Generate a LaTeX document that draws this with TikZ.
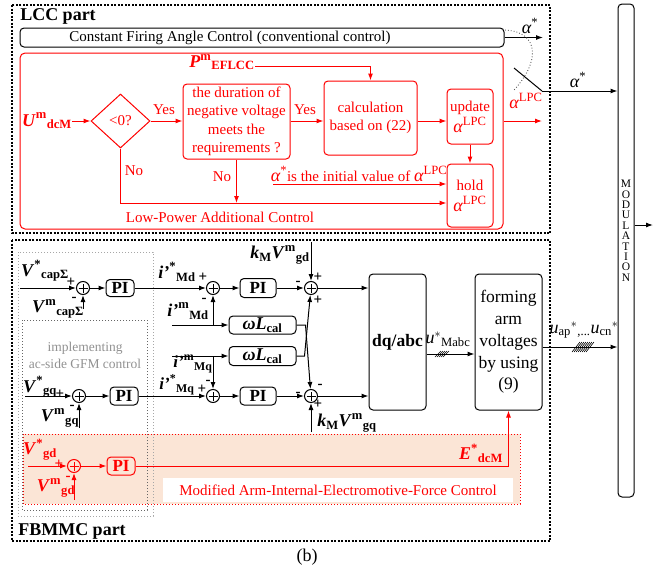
\documentclass[tikz,border=0pt]{standalone}
\usepackage{amsmath}
\usepackage{fontspec}
\setmainfont{Liberation Serif}
\usepackage{tikz}
\usetikzlibrary{arrows.meta}
\usetikzlibrary{shapes.geometric}
\usetikzlibrary{calc}
\definecolor{shade}{RGB}{251,229,214}
\definecolor{ltgray}{RGB}{145,145,145}
\tikzset{t/.style={font=\fontsize{15}{18.5}\selectfont}}
\tikzset{g/.style={font=\fontsize{13.5}{17}\selectfont, text=ltgray, align=center}}
\tikzset{hd/.style={font=\fontsize{18}{18}\selectfont\bfseries}}
\tikzset{lb/.style={font=\fontsize{18}{18}\selectfont, inner sep=0pt}}
\tikzset{sg/.style={font=\fontsize{15}{15}\selectfont\bfseries, inner sep=0pt}}
\tikzset{blk/.style={draw, rounded corners=4pt, inner sep=0pt, align=center}}
\tikzset{rblk/.style={blk, draw=red, text=red}}
\tikzset{pib/.style={blk, font=\fontsize{17}{17}\selectfont\bfseries, minimum width=28, minimum height=17}}
\tikzset{sum/.style={draw=#1, circle, minimum size=13, inner sep=0pt,
  path picture={\draw[#1, line width=0.8pt]
    ([xshift=-4.5pt]path picture bounding box.center) -- ([xshift=4.5pt]path picture bounding box.center)
    ([yshift=-4.5pt]path picture bounding box.center) -- ([yshift=4.5pt]path picture bounding box.center);}},
  sum/.default=black}
\tikzset{frame/.style={line width=1.3pt, dash pattern=on 2pt off 1.5pt}}
\tikzset{rw/.style={draw=red}}
% bold signal names: letter, superscript, subscript
\newcommand{\vlab}[3]{$\textbf{\textit{#1}}^{\textbf{#2}}{}_{\textbf{#3}}$}
\newcommand{\kvlab}[1]{$\textbf{\textit{k}}_{\textbf{M}}\textbf{\textit{V}}^{\textbf{m}}{}_{\textbf{#1}}$}
\newcommand{\alab}[1]{{\fontsize{18}{18}\selectfont$\textit{α}^{\text{#1}}$}}
\newcommand{\wlab}{$\textbf{\textit{ωL}}_{\textbf{cal}}$}

\begin{document}
\begin{tikzpicture}[x=1pt,y=-1pt,line width=1pt,>={Latex[length=7pt,width=5pt]}]
\useasboundingbox (0,0) rectangle (670,576);

% modulation stage
\node[blk, minimum width=16, minimum height=493] (mod) at (626,250.5) {};
\foreach \ch [count=\k] in {M,O,D,U,L,A,T,I,O,N}
  \node[font=\fontsize{11.5}{11.5}\selectfont, inner sep=0pt] at (626,173.6+10.4*\k) {\ch};
\coordinate (mout) at (653,225);
\draw[->] (mout -| mod.east) -- (mout);

% ---------------- LCC part ----------------
\draw[frame] (12,5) rectangle (550,233);
\node[hd] at (58,16) {LCC part};
\node[blk, minimum width=484, minimum height=19] (cfac) at (262,37.5) {};
\node[t] at (230,37.5) {Constant Firing Angle Control (conventional control)};
\coordinate (acon) at (543,37.5);
\draw[->] (cfac.east) -- (acon);
\node[lb] at (530,26) {\alab{*}};
\draw[black!65, dotted, line width=0.9pt] (505,30) .. controls (540,32) and (540,62) .. (514,90);
\coordinate (swa) at (514,68);
\coordinate (swb) at (542,91);
\draw (swa) -- (swb);
\draw[->] (swb) -- (swb -| mod.west);
\node[lb] at (578,80) {\alab{*}};

% low-power additional control
\node[rblk, rounded corners=5pt, minimum width=483, minimum height=176] (lpc) at (261.5,141) {};
\node[t, text=red] at (220,217) {Low-Power Additional Control};
\node[lb, text=red] (udc) at (47,121) {\vlab{U}{m}{dcM}};
\node[diamond, draw=red, t, text=red, inner sep=0pt, minimum width=59, minimum height=54] (cmp) at (120.5,121) {<0?};
\node[rblk, t, minimum width=107, minimum height=75] (dur) at (236.5,121.5) {the duration of\\negative voltage\\meets the\\requirements ?};
\node[rblk, t, minimum width=93, minimum height=74] (calc) at (370.5,118) {calculation\\based on (22)};
\node[rblk, t, font=\fontsize{15}{21}\selectfont, minimum width=46, minimum height=55] (upd) at (470,116.5) {update\\\alab{LPC}};
\node[rblk, t, font=\fontsize{15}{21}\selectfont, minimum width=46, minimum height=63] (hold) at (470,195.5) {hold\\\alab{LPC}};
\node[lb, text=red] (pef) at (222,62) {\vlab{P}{m}{EFLCC}};

\draw[rw,->] (udc.east |- cmp) -- (cmp);
\draw[rw,->] (cmp.east) -- (cmp.east -| dur.west);
\node[t, text=red] at (164,110) {Yes};
\draw[rw,->] (dur.east |- cmp) -- (calc.west |- cmp);
\node[t, text=red] at (305,110) {Yes};
\draw[rw,->] (calc.east |- cmp) -- (upd.west |- cmp);
\draw[rw,->] (upd) -- (hold);
\draw[rw,->] (pef.east |- 0,66) -| (calc.north);
\coordinate (hin) at ([yshift=-7.5pt]hold.west);
\draw[rw,->] (cmp.south) |- (hin);
\draw[rw,->] (dur.south) -- (dur.south |- hin);
\node[t, text=red] at (134,171) {No};
\node[t, text=red] at (222,177) {No};
\coordinate (ini) at (273,184);
\draw[rw,->] (ini) -- (ini -| hold.west);
\node[t, text=red] at (359,174) {\alab{*}is the initial value of \alab{LPC}};
\coordinate (alpo) at (542,121);
\draw[rw,->] (lpc.east |- alpo) -- (alpo);
\node[lb, text=red] at (526,101) {\alab{LPC}};

% ---------------- FBMMC part ----------------
\draw[red, dotted, fill=shade] (23,434) rectangle (520,504);
\node[t, text=red, fill=white, inner sep=0pt, minimum width=350, minimum height=24] at (338,490) {Modified Arm-Internal-Electromotive-Force Control};
\draw[frame] (12,240) rectangle (550,541);
\node[hd] at (72,531) {FBMMC part};
\draw[ltgray!80, dotted] (18,252) rectangle (153,516);
\draw[black!60, dotted] (22,320) rectangle (147,510);
\node[g] at (85,355) {implementing\\ac-side GFM control};

\node[blk, font=\fontsize{17.5}{17.5}\selectfont\bfseries, minimum width=57, minimum height=136] (dq) at (397.5,342) {dq/abc};
\node[blk, font=\fontsize{17.5}{21.7}\selectfont, minimum width=67, minimum height=136] (form) at (508.5,342) {forming\\arm\\voltages\\by using\\(9)};

% d axis
\node[sum] (s1) at (83,288) {};
\node[pib] (p1) at (120,288) {PI};
\node[sum] (s2) at (213,288) {};
\node[pib, minimum width=36, minimum height=19] (pm1) at (258,288) {PI};
\node[sum] (s3) at (311,288) {};
\node[lb] at (45,271) {\vlab{V}{*}{capΣ}};
\node[lb] at (58,309) {\vlab{V}{m}{capΣ}};
\node[sg] at (71,282) {+};
\node[sg] at (74,299) {-};
\coordinate (in1) at (20,288);
\coordinate (fb1) at (83,309);
\draw[->] (in1) -- (s1);
\draw[->] (fb1) -- (s1);
\draw[->] (s1) -- (p1);
\draw[->] (p1) -- (s2);
\node[lb] at (177,272) {\vlab{i'}{*}{Md}};
\node[sg] at (203,277) {+};
\node[sg] at (204,300) {-};
\draw[->] (s2) -- (pm1);
\draw[->] (pm1) -- (s3);
\node[sg] at (298,283) {-};
\node[sg] at (318,277) {+};
\node[sg] at (318,300) {+};
\node[lb] at (280,255) {\kvlab{gd}};
\coordinate (kd) at (311,242);
\draw[->] (kd) -- (s3);
\draw[->] (s3) -- (s3 -| dq.west);

% decoupling terms
\node[blk, font=\fontsize{18}{18}\selectfont, minimum width=67, minimum height=18] (wl1) at (262.5,325) {\wlab};
\node[blk, font=\fontsize{18}{18}\selectfont, minimum width=67, minimum height=19] (wl2) at (262.5,356) {\wlab};
\coordinate (imd) at (172,325);
\coordinate (imq) at (172,356);
\draw[->] (imd) -- (wl1);
\draw[->] (imd -| s2) -- (s2);
\node[lb] at (188,311) {\vlab{i'}{m}{Md}};
\draw[->] (imq) -- (wl2);
\node[lb, font=\fontsize{17}{17}\selectfont] at (193,364) {\vlab{i'}{m}{Mq}};

% q axis
\node[sum] (s6) at (79,396) {};
\node[pib, minimum height=18] (p2) at (124,396) {PI};
\node[sum] (s4) at (213,396) {};
\node[pib, minimum width=36, minimum height=18] (pm2) at (258,396) {PI};
\node[sum] (s5) at (311,396) {};
\draw[->] (imq -| s4) -- (s4);
\draw[->] (wl1.east) -- ++(9,0) -- (s5);
\draw[->] (wl2.east) -- ++(8,0) -- (s3);
\node[lb] at (40,387) {\vlab{V}{*}{gq}};
\node[lb] at (60,418) {\vlab{V}{m}{gq}};
\node[sg] at (60,394) {+};
\node[sg] at (72,407) {-};
\coordinate (in2) at (25,396);
\coordinate (fb2) at (79,428);
\draw[->] (in2) -- (s6);
\draw[->] (fb2) -- (s6);
\draw[->] (s6) -- (p2);
\draw[->] (p2) -- (s4);
\node[lb, font=\fontsize{17}{17}\selectfont] at (177,385) {\vlab{i'}{*}{Mq}};
\node[sg] at (202,389) {+};
\node[sg] at (208,382) {-};
\draw[->] (s4) -- (pm2);
\draw[->] (pm2) -- (s5);
\node[sg] at (298,394) {-};
\node[sg] at (320,386) {-};
\node[sg] at (318,404) {+};
\node[lb] at (347,423) {\kvlab{gq}};
\coordinate (kq) at (311,432);
\draw[->] (kq) -- (s5);
\draw[->] (s5) -- (s5 -| dq.west);

% abc references and arm voltages
\coordinate (dqo) at ([yshift=-12pt]dq.east);
\draw[->] (dqo) -- (dqo -| form.west);
\foreach \x in {438,440,...,446} \draw[line width=0.6pt] (\x-3,357) -- (\x+3,351);
\node[lb] at (448,339) {$\textit{u}^{*}{}_{\text{Mabc}}$};
\coordinate (fo) at ([yshift=-5pt]form.east);
\draw[->] (fo) -- (fo -| mod.west);
\foreach \x in {576,578,...,590} \draw[line width=0.6pt] (\x-4,352) -- (\x+4,342);
\node[lb] at (584,330) {$\textit{u}_{\text{ap}}{}^{*}{}_{\text{,...}}\textit{u}_{\text{cn}}{}^{*}$};

% modified arm-internal-EMF control
\node[sum=red] (sr) at (74,466) {};
\node[pib, draw=red, text=red, minimum height=18] (rp) at (121,466) {PI};
\node[lb, text=red] at (40,450) {\vlab{V}{*}{gd}};
\node[lb, text=red] at (56,488) {\vlab{V}{m}{gd}};
\node[sg, text=red] at (59,464) {+};
\node[sg, text=red] at (68,478) {-};
\coordinate (in3) at (28,466);
\coordinate (fb3) at (74,500);
\draw[rw,->] (in3) -- (sr);
\draw[rw,->] (fb3) -- (sr);
\draw[rw,->] (sr) -- (rp);
\draw[rw,->] (rp) -| (form.south);
\node[lb, text=red] at (481,453) {\vlab{E}{*}{dcM}};

\node[font=\fontsize{18}{18}\selectfont] at (307,557) {(b)};
\end{tikzpicture}
\end{document}
